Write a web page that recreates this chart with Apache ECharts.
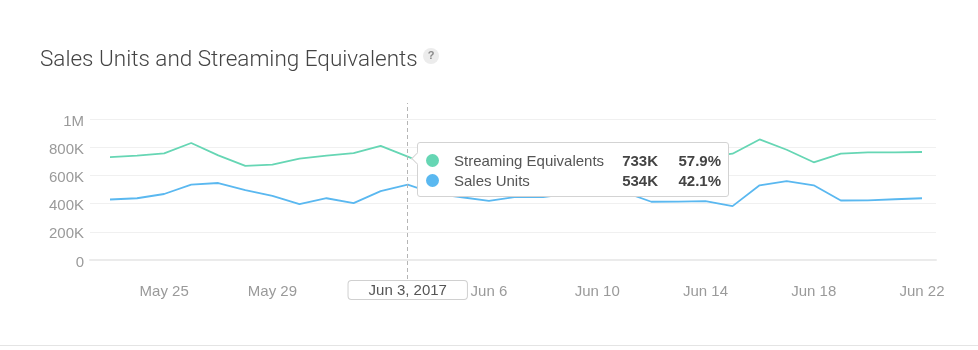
<!DOCTYPE html>
<html>
<head>
<meta charset="utf-8">
<script src="https://cdn.jsdelivr.net/npm/echarts@6/dist/echarts.min.js"></script>
<style>
  html, body { margin: 0; padding: 0; background: #fff; }
  #chart { width: 978px; height: 350px; }
</style>
</head>
<body>
<div id="chart"></div>
<script>
// Daily values, May 23 – Jun 22, 2017
const dates = [
  'May 23', 'May 24', 'May 25', 'May 26', 'May 27', 'May 28', 'May 29', 'May 30', 'May 31',
  'Jun 1', 'Jun 2', 'Jun 3', 'Jun 4', 'Jun 5', 'Jun 6', 'Jun 7', 'Jun 8', 'Jun 9', 'Jun 10',
  'Jun 11', 'Jun 12', 'Jun 13', 'Jun 14', 'Jun 15', 'Jun 16', 'Jun 17', 'Jun 18', 'Jun 19',
  'Jun 20', 'Jun 21', 'Jun 22'
];
const year = 2017;

const streamingEquivalents = [
  730000, 740000, 756000, 830000, 742000, 667000, 676000, 719000, 740000,
  758000, 810000, 733000, 655000, 690000, 705000, 728000, 715000, 742000, 760000,
  745000, 712000, 708000, 730000, 754000, 855000, 782000, 693000, 754000,
  763000, 763000, 766000
];
const salesUnits = [
  429000, 438000, 468000, 535000, 546000, 495000, 455000, 396000, 438000,
  403000, 488000, 534000, 470000, 445000, 420000, 448000, 446000, 470000, 488000,
  481000, 413000, 414000, 417000, 382000, 530000, 560000, 530000, 422000,
  423000, 431000, 438000
];

const seriesNames = ['Streaming Equivalents', 'Sales Units'];
const seriesColors = ['#66d6b4', '#5ab8f0'];

// Value axis ticks
const yMin = 0, yMax = 1000000, yStep = 200000;
// Label every fourth day, starting at May 25
const labelStart = 2, labelEvery = 4;
// Day highlighted by the pointer and tooltip
const focusDate = 'Jun 3';

const FONT = '"Liberation Sans", Arial, Helvetica, sans-serif';

// Layout: the gridline frame (values 0..1M) and a taller data frame sharing the same scale,
// so the dashed pointer can run above the top gridline and below the zero line.
const frameTop = 119, frameBottom = 260;           // y of 1M and 0
const dataTop = 103, dataBottom = 279;             // extent of the pointer line / x axis
const pxPerUnit = (frameBottom - frameTop) / (yMax - yMin);
const dataMax = yMax + (frameTop - dataTop) / pxPerUnit;
const dataMin = yMin - (dataBottom - frameBottom) / pxPerUnit;

function fmtAxis(v) {
  let s;
  if (v === 0) s = '0';
  else if (v >= 1e6) s = (v / 1e6) + 'M';
  else s = (v / 1e3) + 'K';
  return '{t|' + s + '}';
}

const chart = echarts.init(document.getElementById('chart'), null, { renderer: 'canvas' });

const option = {
  animation: false,
  backgroundColor: '#fff',
  textStyle: { fontFamily: FONT },
  title: {
    text: 'Sales Units and Streaming Equivalents',
    left: 35,
    top: 44,
    textStyle: { fontFamily: 'Roboto, ' + FONT, fontSize: 22.5, fontWeight: 300, color: '#444' }
  },
  graphic: [
    {
      type: 'group',
      left: 423,
      top: 48,
      children: [
        { type: 'circle', shape: { cx: 8, cy: 8, r: 8 }, style: { fill: '#ececec' } },
        { type: 'text', x: 8, y: 8, style: { text: '?', fill: '#8a8a8a', font: 'bold 11px ' + FONT, align: 'center', verticalAlign: 'middle' } }
      ]
    },
    {
      type: 'rect',
      left: 0,
      top: 345,
      shape: { width: 978, height: 1 },
      style: { fill: '#e4e4e4' }
    }
  ],
  grid: [
    { left: 110, right: 56, top: dataTop, bottom: 350 - dataBottom },
    { left: 90, right: 42, top: frameTop, bottom: 350 - frameBottom }
  ],
  xAxis: [
    {
      type: 'category',
      gridIndex: 0,
      data: dates,
      boundaryGap: false,
      axisLine: { show: false },
      axisTick: { show: false },
      splitLine: { show: false },
      axisLabel: {
        interval: function (i) { return i >= labelStart && (i - labelStart) % labelEvery === 0; },
        color: '#9a9a9a',
        fontSize: 15,
        fontFamily: FONT,
        margin: 5
      },
      axisPointer: {
        show: true,
        type: 'line',
        lineStyle: { color: '#b5b5b5', width: 1, type: [4, 3] },
        label: {
          show: true,
          formatter: function (p) { return p.value + ', ' + year; },
          backgroundColor: '#fff',
          borderColor: '#d0d0d0',
          borderWidth: 1,
          borderRadius: 3,
          color: '#555',
          fontSize: 15,
          fontFamily: FONT,
          padding: [2, 20, 1, 20],
          margin: 2,
          shadowBlur: 0
        }
      }
    },
    {
      type: 'value',
      gridIndex: 1,
      min: 0,
      max: 1,
      show: true,
      axisLine: { show: true, lineStyle: { color: '#ebebeb', width: 2 } },
      axisTick: { show: false },
      axisLabel: { show: false },
      splitLine: { show: false },
      axisPointer: { show: false }
    }
  ],
  yAxis: [
    {
      type: 'value',
      gridIndex: 0,
      min: dataMin,
      max: dataMax,
      show: false,
      splitLine: { show: false },
      axisPointer: { show: false }
    },
    {
      type: 'value',
      gridIndex: 1,
      min: yMin,
      max: yMax,
      interval: yStep,
      axisLine: { show: false },
      axisTick: { show: false },
      splitLine: { show: true, lineStyle: { color: '#f0f0f0', width: 1 } },
      axisLabel: {
        formatter: fmtAxis,
        margin: 6,
        rich: {
          t: { color: '#9a9a9a', fontSize: 15, fontFamily: FONT, padding: [5, 0, 0, 0] }
        }
      },
      axisPointer: { show: false }
    }
  ],
  tooltip: {
    trigger: 'axis',
    triggerOn: 'none',
    alwaysShowContent: true,
    transitionDuration: 0,
    showDelay: 0,
    position: [417, 142],
    backgroundColor: '#fff',
    borderColor: '#d3d3d3',
    borderWidth: 1,
    borderRadius: 3,
    padding: [8, 7, 5, 8],
    extraCssText: 'box-shadow:none;',
    textStyle: { fontFamily: FONT, fontSize: 15, color: '#555' },
    axisPointer: { type: 'line' },
    formatter: function (params) {
      const total = params.reduce(function (s, p) { return s + p.value; }, 0);
      let html = '<div style="position:absolute;left:-5px;top:11px;width:8px;height:8px;background:#fff;' +
        'border-left:1px solid #d3d3d3;border-bottom:1px solid #d3d3d3;transform:rotate(45deg);"></div>';
      params.forEach(function (p) {
        const v = Math.round(p.value / 1000) + 'K';
        const pct = (p.value / total * 100).toFixed(1) + '%';
        html += '<div style="height:20px;line-height:20px;white-space:nowrap;font-family:' + FONT.replace(/"/g, "'") + ';font-size:15px;">' +
          '<span style="display:inline-block;width:13px;height:13px;border-radius:50%;background:' + p.color + ';vertical-align:-1px;margin-right:15px;"></span>' +
          '<span style="display:inline-block;width:161px;color:#555;">' + p.seriesName + '</span>' +
          '<span style="display:inline-block;width:43px;text-align:right;font-weight:bold;color:#444;">' + v + '</span>' +
          '<span style="display:inline-block;width:63px;text-align:right;font-weight:bold;color:#444;">' + pct + '</span>' +
          '</div>';
      });
      return html;
    }
  },
  series: [
    {
      name: seriesNames[0],
      type: 'line',
      xAxisIndex: 0,
      yAxisIndex: 0,
      data: streamingEquivalents,
      symbol: 'none',
      color: seriesColors[0],
      lineStyle: { color: seriesColors[0], width: 1.8 },
      emphasis: { disabled: true }
    },
    {
      name: seriesNames[1],
      type: 'line',
      xAxisIndex: 0,
      yAxisIndex: 0,
      data: salesUnits,
      symbol: 'none',
      color: seriesColors[1],
      lineStyle: { color: seriesColors[1], width: 1.8 },
      emphasis: { disabled: true }
    }
  ]
};

chart.setOption(option);
chart.dispatchAction({ type: 'showTip', seriesIndex: 0, dataIndex: dates.indexOf(focusDate) });
</script>
</body>
</html>
